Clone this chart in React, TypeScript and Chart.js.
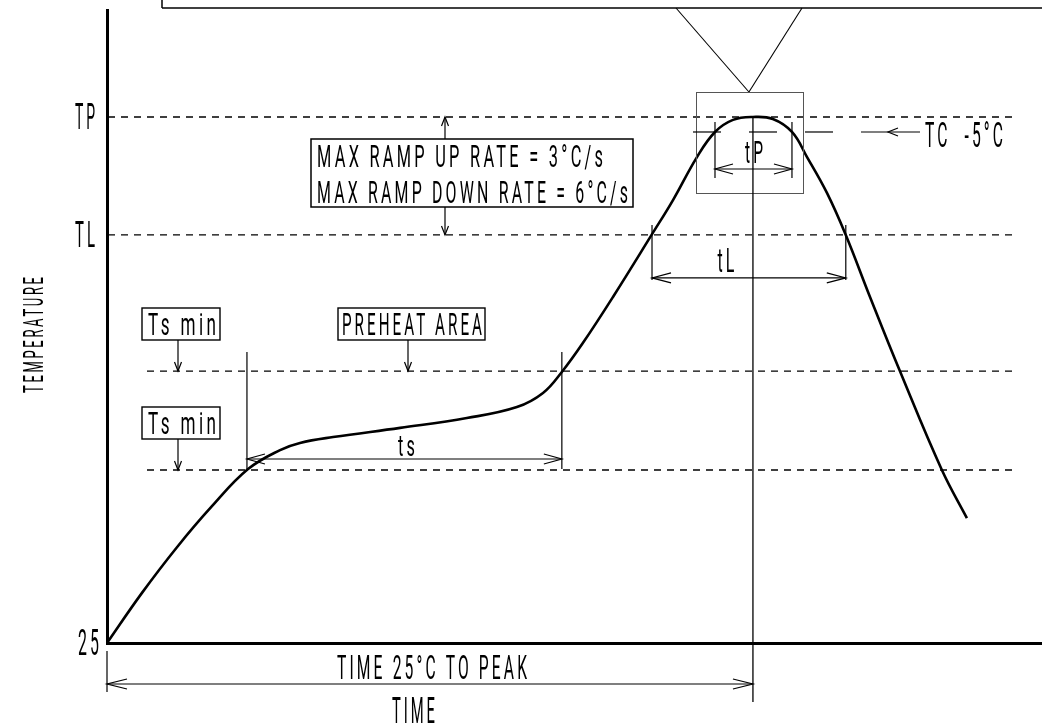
import React, { useEffect, useRef } from 'react';
import { Chart, registerables } from 'chart.js';

Chart.register(...registerables);

// Reflow profile curve (schematic): time in s, temperature in °C
const TIME_S = [0, 13.0, 26.0, 39.0, 52.4, 64.3, 71.7, 84.0, 108.9, 133.7, 152.3, 162.0, 169.0, 176.8, 188.0, 202.8, 210.3, 219.2, 225.9, 232.6, 240, 247.4, 254.5, 260.1, 267.5, 274.5, 283.5, 294.6, 310.2, 319.5];
const TEMP_C = [25, 47.4, 67.8, 86.1, 102.7, 111.2, 114.4, 117.0, 121.1, 125.5, 130.4, 136.7, 146.1, 159.0, 179.6, 208.2, 222.9, 242.1, 253.3, 258.7, 260, 259.1, 253.3, 242.1, 226.1, 207.3, 179.6, 146.5, 102.3, 80.8];

// Axis levels and labels
const Y_TICK_VALUES = [25, 207.3, 260];
const Y_TICK_LABELS = ['25', 'TL', 'TP'];
const SOAK_LEVELS = [146.5, 102.3];
const SOAK_LABELS = ['Ts min', 'Ts min'];
const PREHEAT_LABEL = 'PREHEAT AREA';
const PEAK_TIME = 240;
const TS_SPAN = [52, 169];
const TL_SPAN = [202.5, 274.5];
const TP_SPAN = [225.9, 254.5];
const TC_MINUS_5 = 253.3;
const TC_LABEL = 'TC  -5°C';
const RAMP_LINES = ['MAX RAMP UP RATE = 3°C/s', 'MAX RAMP DOWN RATE = 6°C/s'];
const SPAN_LABELS = ['ts', 'tL', 'tP'];
const X_TITLE = 'TIME';
const Y_TITLE = 'TEMPERATURE';
const PEAK_DIM_LABEL = 'TIME 25°C TO PEAK';
const TIME_MAX = 347.4;
const TEMP_MAX = 307.8;

function drawText(ctx: any, s: string, x: number, y: number, capH: number, w: number, align = 'left', rot = 0) {
  const size = (capH / 0.711) * 1.12;
  ctx.save();
  ctx.font = `400 ${size.toFixed(2)}px Roboto, "DejaVu Sans", sans-serif`;
  const sp = size * 0.2;
  ctx.letterSpacing = `${sp.toFixed(2)}px`;
  ctx.textAlign = 'left';
  ctx.textBaseline = 'alphabetic';
  const natural = Math.max(1, ctx.measureText(s).width - sp);
  const sx = w / natural;
  ctx.translate(x, y);
  if (rot) ctx.rotate(rot);
  ctx.scale(sx, 1);
  const ox = align === 'center' ? -natural / 2 : align === 'right' ? -natural : 0;
  ctx.fillStyle = '#000';
  ctx.fillText(s, ox, 0);
  ctx.restore();
}

function seg(ctx: any, x1: number, y1: number, x2: number, y2: number) {
  ctx.beginPath();
  ctx.moveTo(x1, y1);
  ctx.lineTo(x2, y2);
  ctx.stroke();
}

function chevron(ctx: any, tx: number, ty: number, dx: number, dy: number, len: number, half: number) {
  const bx = tx - dx * len;
  const by = ty - dy * len;
  const nx = -dy;
  const ny = dx;
  ctx.beginPath();
  ctx.moveTo(bx + nx * half, by + ny * half);
  ctx.lineTo(tx, ty);
  ctx.lineTo(bx - nx * half, by - ny * half);
  ctx.stroke();
}

const annotations = {
  id: 'reflowAnnotations',
  beforeDatasetsDraw(chart: any) {
    const { ctx } = chart;
    const xs = chart.scales.x;
    const ys = chart.scales.y;
    const X = (v: number) => xs.getPixelForValue(v);
    const Y = (v: number) => ys.getPixelForValue(v);
    ctx.save();
    ctx.strokeStyle = '#000';
    ctx.lineWidth = 1.3;
    ctx.setLineDash([7, 6]);
    const right = 1013;
    [Y_TICK_VALUES[2], Y_TICK_VALUES[1]].forEach((v) => seg(ctx, X(0) + 1, Y(v), right, Y(v)));
    SOAK_LEVELS.forEach((v) => seg(ctx, 147, Y(v), right, Y(v)));
    ctx.restore();
  },
  afterDatasetsDraw(chart: any) {
    const { ctx } = chart;
    const xs = chart.scales.x;
    const ys = chart.scales.y;
    const X = (v: number) => xs.getPixelForValue(v);
    const Y = (v: number) => ys.getPixelForValue(v);
    const L = X(0);
    const B = Y(25);
    const yTP = Y(Y_TICK_VALUES[2]);
    const yTL = Y(Y_TICK_VALUES[1]);
    const yS1 = Y(SOAK_LEVELS[0]);
    const yS2 = Y(SOAK_LEVELS[1]);
    const xPk = X(PEAK_TIME);

    ctx.save();
    ctx.strokeStyle = '#000';
    ctx.fillStyle = '#000';
    ctx.lineCap = 'butt';
    ctx.setLineDash([]);

    // y tick labels
    Y_TICK_VALUES.forEach((v, i) => {
      const isNum = i === 0;
      drawText(ctx, Y_TICK_LABELS[i], isNum ? L - 8 : L - 12, Y(v) + 12, 23, isNum ? 21 : 20, 'right');
    });
    // axis titles
    drawText(ctx, Y_TITLE, 43, 393, 18, 116, 'left', -Math.PI / 2);
    drawText(ctx, X_TITLE, 392, B + 80, 23, 43, 'left');

    // top frame + V leader to the detail box
    ctx.lineWidth = 1.5;
    seg(ctx, 162, 0, 162, 8);
    seg(ctx, 162, 8, 1042, 8);
    ctx.lineWidth = 1.1;
    seg(ctx, 676, 8, xPk - 4, 92);
    seg(ctx, xPk - 4, 92, 802, 8);
    ctx.strokeStyle = '#555';
    ctx.lineWidth = 1;
    ctx.strokeRect(696.5, 92.5, 107, 101);
    ctx.strokeStyle = '#000';

    // peak centre line
    ctx.lineWidth = 1.3;
    seg(ctx, xPk, yTP, xPk, B + 59);

    // tP dimension
    ctx.lineWidth = 1.2;
    const p0 = X(TP_SPAN[0]);
    const p1 = X(TP_SPAN[1]);
    seg(ctx, p0, yTP + 5, p0, yTP + 61);
    seg(ctx, p1, yTP + 5, p1, yTP + 61);
    seg(ctx, p0, yTP + 52, p1, yTP + 52);
    chevron(ctx, p0, yTP + 52, -1, 0, 18, 5);
    chevron(ctx, p1, yTP + 52, 1, 0, 18, 5);
    drawText(ctx, SPAN_LABELS[2], xPk + 1, yTP + 46, 20, 18, 'center');

    // TC -5°C centre line and leader arrow
    const yTC = Y(TC_MINUS_5);
    ctx.setLineDash([28, 28]);
    seg(ctx, 693, yTC, 833, yTC);
    ctx.setLineDash([]);
    seg(ctx, 861, yTC, 920, yTC);
    chevron(ctx, 888, yTC, -1, 0, 10, 4);
    drawText(ctx, TC_LABEL, 925, yTC + 15, 22, 78, 'left');

    // tL dimension
    const l0 = X(TL_SPAN[0]);
    const l1 = X(TL_SPAN[1]);
    seg(ctx, l0, yTL - 10, l0, yTL + 45);
    seg(ctx, l1, yTL - 10, l1, yTL + 45);
    seg(ctx, l0, yTL + 43, l1, yTL + 43);
    chevron(ctx, l0, yTL + 43, -1, 0, 19, 5);
    chevron(ctx, l1, yTL + 43, 1, 0, 19, 5);
    drawText(ctx, SPAN_LABELS[1], (l0 + l1) / 2 - 23, yTL + 37, 21, 17, 'center');

    // ts dimension
    const s0 = X(TS_SPAN[0]);
    const s1 = X(TS_SPAN[1]);
    seg(ctx, s0, yS1 - 19, s0, yS2 - 1);
    seg(ctx, s1, yS1 - 19, s1, yS2 - 1);
    seg(ctx, s0, yS2 - 11, s1, yS2 - 11);
    chevron(ctx, s0, yS2 - 11, -1, 0, 18, 5);
    chevron(ctx, s1, yS2 - 11, 1, 0, 18, 5);
    drawText(ctx, SPAN_LABELS[0], (s0 + s1) / 2 + 2, yS2 - 14, 19, 17, 'center');

    // ramp-rate box with arrows
    ctx.lineWidth = 1.5;
    ctx.strokeRect(311, 139, 322, 68);
    ctx.lineWidth = 1.2;
    seg(ctx, 445, 139, 445, yTP);
    chevron(ctx, 445, yTP, 0, -1, 9, 3.5);
    seg(ctx, 445, 207, 445, yTL);
    chevron(ctx, 445, yTL, 0, 1, 9, 3.5);
    drawText(ctx, RAMP_LINES[0], 317, 167, 20, 286, 'left');
    drawText(ctx, RAMP_LINES[1], 317, 203, 20, 311, 'left');

    // soak labels
    ctx.lineWidth = 1.4;
    ctx.strokeRect(142, 308, 78, 32);
    ctx.strokeRect(142, 407, 78, 32);
    ctx.strokeRect(338, 308, 147, 32);
    ctx.lineWidth = 1.2;
    drawText(ctx, SOAK_LABELS[0], 148, 335, 20, 68, 'left');
    drawText(ctx, SOAK_LABELS[1], 148, 434, 20, 68, 'left');
    drawText(ctx, PREHEAT_LABEL, 342, 335, 20, 140, 'left');
    seg(ctx, 178, 340, 178, yS1);
    chevron(ctx, 178, yS1, 0, 1, 9, 3.5);
    seg(ctx, 178, 439, 178, yS2);
    chevron(ctx, 178, yS2, 0, 1, 9, 3.5);
    seg(ctx, 408, 340, 408, yS1);
    chevron(ctx, 408, yS1, 0, 1, 9, 3.5);

    // time 25°C to peak dimension
    seg(ctx, L, B + 8, L, B + 49);
    seg(ctx, L, B + 41, xPk, B + 41);
    chevron(ctx, L, B + 41, -1, 0, 20, 5);
    chevron(ctx, xPk, B + 41, 1, 0, 20, 5);
    drawText(ctx, PEAK_DIM_LABEL, 337, B + 36, 21, 190, 'left');

    ctx.restore();
  },
};

export default function App() {
  const ref = useRef<HTMLCanvasElement | null>(null);
  useEffect(() => {
    if (!ref.current) return;
    const chart = new Chart(ref.current, {
      type: 'line',
      data: {
        datasets: [
          {
            data: TIME_S.map((t, i) => ({ x: t, y: TEMP_C[i] })),
            borderColor: '#000',
            borderWidth: 2.6,
            pointRadius: 0,
            tension: 0.4,
            fill: false,
          },
        ],
      },
      options: {
        animation: false,
        responsive: false,
        layout: { padding: { top: 10, left: 0, right: 0, bottom: 0 } },
        plugins: { legend: { display: false }, tooltip: { enabled: false } },
        scales: {
          x: {
            type: 'linear',
            min: 0,
            max: TIME_MAX,
            grid: { display: false, drawTicks: false },
            border: { display: true, color: '#000', width: 3 },
            ticks: { display: false },
            afterFit: (s: any) => {
              s.height = 85;
            },
          },
          y: {
            type: 'linear',
            min: 25,
            max: TEMP_MAX,
            afterBuildTicks: (s: any) => {
              s.ticks = Y_TICK_VALUES.map((v) => ({ value: v }));
            },
            grid: { display: false, drawTicks: false },
            border: { display: true, color: '#000', width: 3 },
            ticks: { display: false },
            afterFit: (s: any) => {
              s.width = 107;
            },
          },
        },
      } as any,
      plugins: [annotations],
    });
    return () => chart.destroy();
  }, []);
  return (
    <div style={{ position: 'absolute', left: 0, top: 0, width: 1042, height: 728, background: '#fff' }}>
      <canvas ref={ref} width={1042} height={728} />
    </div>
  );
}
